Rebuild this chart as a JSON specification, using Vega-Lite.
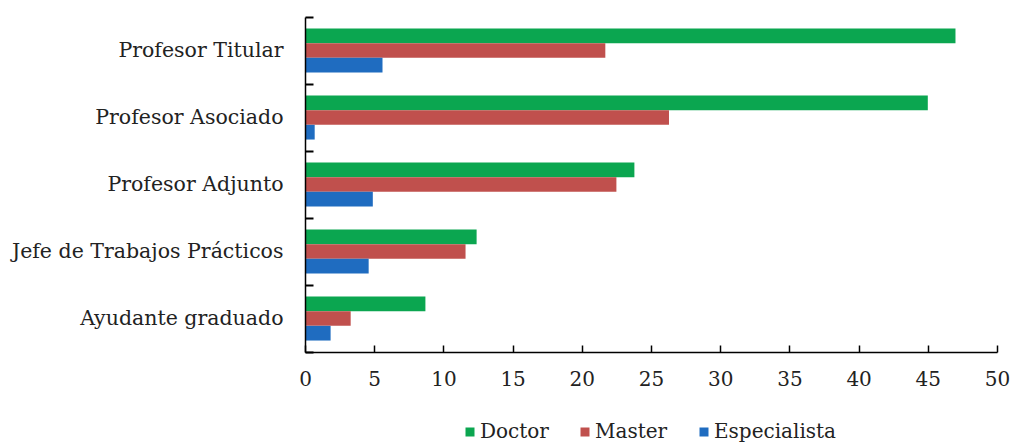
{
  "$schema": "https://vega.github.io/schema/vega-lite/v6.json",
  "width": 692,
  "height": 335,
  "autosize": {"type": "none"},
  "padding": {"left": 305, "top": 17, "right": 23, "bottom": 94},
  "background": "white",
  "config": {"view": {"stroke": null}, "font": "DejaVu Serif"},
  "data": {
    "values": [
      {"cargo": "Profesor Titular", "grado": "Doctor", "valor": 47.0},
      {"cargo": "Profesor Titular", "grado": "Master", "valor": 21.7},
      {"cargo": "Profesor Titular", "grado": "Especialista", "valor": 5.6},
      {"cargo": "Profesor Asociado", "grado": "Doctor", "valor": 45.0},
      {"cargo": "Profesor Asociado", "grado": "Master", "valor": 26.3},
      {"cargo": "Profesor Asociado", "grado": "Especialista", "valor": 0.7},
      {"cargo": "Profesor Adjunto", "grado": "Doctor", "valor": 23.8},
      {"cargo": "Profesor Adjunto", "grado": "Master", "valor": 22.5},
      {"cargo": "Profesor Adjunto", "grado": "Especialista", "valor": 4.9},
      {"cargo": "Jefe de Trabajos Prácticos", "grado": "Doctor", "valor": 12.4},
      {"cargo": "Jefe de Trabajos Prácticos", "grado": "Master", "valor": 11.6},
      {"cargo": "Jefe de Trabajos Prácticos", "grado": "Especialista", "valor": 4.6},
      {"cargo": "Ayudante graduado", "grado": "Doctor", "valor": 8.7},
      {"cargo": "Ayudante graduado", "grado": "Master", "valor": 3.3},
      {"cargo": "Ayudante graduado", "grado": "Especialista", "valor": 1.85}
    ]
  },
  "mark": {"type": "bar"},
  "encoding": {
    "y": {
      "field": "cargo",
      "type": "nominal",
      "sort": ["Profesor Titular", "Profesor Asociado", "Profesor Adjunto", "Jefe de Trabajos Prácticos", "Ayudante graduado"],
      "scale": {"paddingInner": 0, "paddingOuter": 0},
      "axis": {
        "title": null,
        "zindex": 1,
        "tickBand": "extent",
        "tickSize": -8,
        "tickColor": "black",
        "tickWidth": 2,
        "domainColor": "black",
        "domainWidth": 1.5,
        "labelFontSize": 20.5,
        "labelColor": "#222222",
        "labelPadding": 30,
        "labelLimit": 400,
        "labelFont": "DejaVu Serif"
      }
    },
    "yOffset": {
      "field": "grado",
      "sort": ["Doctor", "Master", "Especialista"],
      "scale": {"paddingInner": 0, "paddingOuter": 0.78}
    },
    "x": {
      "field": "valor",
      "type": "quantitative",
      "scale": {"domain": [0, 50], "nice": false},
      "axis": {
        "title": null,
        "zindex": 1,
        "values": [0, 5, 10, 15, 20, 25, 30, 35, 40, 45, 50],
        "grid": false,
        "labelFlush": false,
        "tickSize": -7,
        "tickColor": "black",
        "tickWidth": 1.5,
        "domainColor": "black",
        "domainWidth": 1.5,
        "labelFontSize": 20,
        "labelColor": "#222222",
        "labelPadding": 24,
        "labelFont": "DejaVu Serif"
      }
    },
    "color": {
      "field": "grado",
      "type": "nominal",
      "sort": ["Doctor", "Master", "Especialista"],
      "scale": {"domain": ["Doctor", "Master", "Especialista"], "range": ["#0ba650", "#c0504d", "#1f6cc0"]},
      "legend": {
        "title": null,
        "orient": "none",
        "direction": "horizontal",
        "legendX": 155,
        "legendY": 405,
        "symbolType": "square",
        "symbolSize": 81,
        "symbolStrokeWidth": 0,
        "labelFontSize": 20,
        "labelColor": "#222222",
        "labelFont": "DejaVu Serif",
        "columnPadding": 26,
        "labelOffset": 0
      }
    }
  }
}
